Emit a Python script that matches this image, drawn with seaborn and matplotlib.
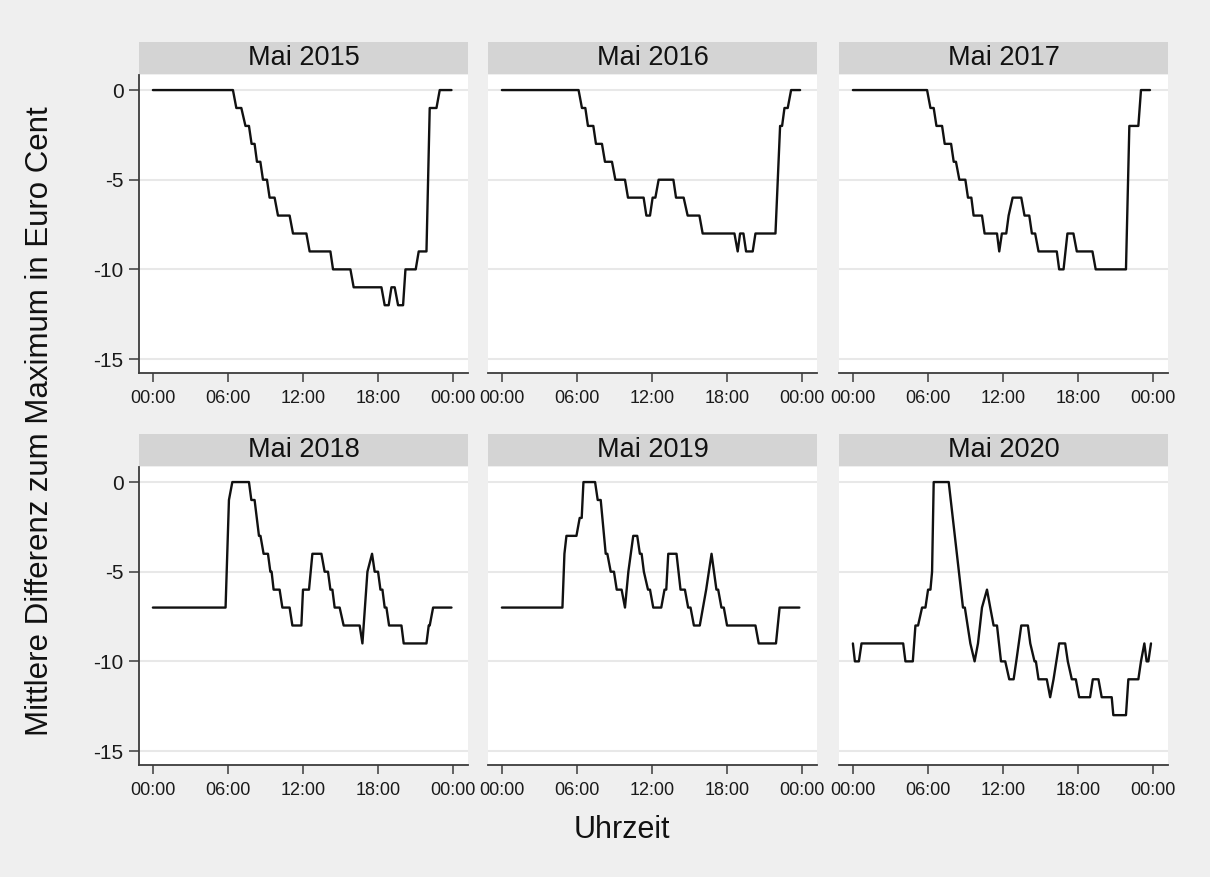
import numpy as np
import pandas as pd
import matplotlib
matplotlib.use("Agg")
import matplotlib.pyplot as plt
from matplotlib.patches import Rectangle
import seaborn as sns

sns.set_theme(style="white")
plt.rcParams['font.family'] = ['Liberation Sans', 'DejaVu Sans']

titles = ["Mai 2015", "Mai 2016", "Mai 2017", "Mai 2018", "Mai 2019", "Mai 2020"]

hours_2015 = [0, 6.4, 6.67, 7.07, 7.4, 7.68, 7.89, 8.13, 8.32, 8.59, 8.8, 9.12, 9.33, 9.73, 10.0, 10.93,
              11.2, 12.27, 12.53, 14.19, 14.4, 15.79, 16.05, 18.27, 18.53, 18.85, 19.07, 19.33, 19.6, 20.0,
              20.19, 21.01, 21.25, 21.87, 22.13, 22.67, 22.93, 23.87]
vals_2015 = [0, 0, -1, -1, -2, -2, -3, -3, -4, -4, -5, -5, -6, -6, -7, -7,
             -8, -8, -9, -9, -10, -10, -11, -11, -12, -12, -11, -11, -12, -12,
             -10, -10, -9, -9, -1, -1, 0, 0]

hours_2016 = [0, 6.13, 6.4, 6.67, 6.88, 7.31, 7.52, 8.0, 8.24, 8.8, 9.07, 9.84, 10.08, 11.33, 11.55, 11.84,
              12.05, 12.27, 12.53, 13.71, 13.92, 14.53, 14.85, 15.79, 16.05, 18.59, 18.85, 19.04, 19.31,
              19.52, 20.05, 20.27, 21.87, 22.24, 22.4, 22.59, 22.85, 23.12, 23.84]
vals_2016 = [0, 0, -1, -1, -2, -2, -3, -3, -4, -4, -5, -5, -6, -6, -7, -7,
             -6, -6, -5, -5, -6, -6, -7, -7, -8, -8, -9, -8, -8,
             -9, -9, -8, -8, -2, -2, -1, -1, 0, 0]

hours_2017 = [0, 5.93, 6.2, 6.46, 6.68, 7.13, 7.34, 7.85, 8.06, 8.24, 8.51, 8.99, 9.2, 9.47, 9.65, 10.32,
              10.53, 11.52, 11.7, 11.91, 12.26, 12.45, 12.77, 13.46, 13.72, 14.1, 14.31, 14.57, 14.84, 16.3,
              16.49, 16.84, 17.15, 17.63, 17.9, 19.15, 19.41, 21.83, 22.1, 22.82, 23.03, 23.75]
vals_2017 = [0, 0, -1, -1, -2, -2, -3, -3, -4, -4, -5, -5, -6, -6, -7, -7,
             -8, -8, -9, -8, -8, -7, -6, -6, -7, -7, -8, -8, -9, -9,
             -10, -10, -8, -8, -9, -9, -10, -10, -2, -2, 0, 0]

hours_2018 = [0, 5.81, 6.08, 6.35, 7.68, 7.87, 8.13, 8.48, 8.6, 8.85, 9.2, 9.39, 9.49, 9.65, 10.13, 10.35,
              10.93, 11.15, 11.87, 12.0, 12.48, 12.75, 13.47, 13.73, 14.0, 14.19, 14.35, 14.53, 14.93, 15.25,
              16.53, 16.75, 17.15, 17.52, 17.73, 18.0, 18.19, 18.35, 18.53, 18.67, 18.88, 19.87, 20.05,
              21.87, 22.05, 22.13, 22.4, 23.87]
vals_2018 = [-7, -7, -1, 0, 0, -1, -1, -3, -3, -4, -4, -5, -5, -6, -6, -7,
             -7, -8, -8, -6, -6, -4, -4, -5, -5, -6, -6, -7, -7, -8,
             -8, -9, -5, -4, -5, -5, -6, -6, -7, -7, -8, -8, -9,
             -9, -8, -8, -7, -7]

hours_2019 = [0, 4.84, 5.0, 5.16, 5.96, 6.22, 6.38, 6.52, 7.45, 7.66, 7.9, 8.3, 8.43, 8.7, 8.96, 9.18,
              9.57, 9.84, 10.11, 10.5, 10.82, 11.03, 11.17, 11.35, 11.68, 11.84, 12.1, 12.74, 13.0, 13.14,
              13.3, 13.96, 14.28, 14.63, 14.89, 15.08, 15.35, 15.82, 16.33, 16.76, 17.15, 17.29, 17.55,
              17.74, 18.0, 20.27, 20.53, 21.91, 22.2, 23.78]
vals_2019 = [-7, -7, -4, -3, -3, -2, -2, 0, 0, -1, -1, -4, -4, -5, -5, -6,
             -6, -7, -5, -3, -3, -4, -4, -5, -6, -6, -7, -7, -6, -6,
             -4, -4, -6, -6, -7, -7, -8, -8, -6, -4, -6, -6, -7,
             -7, -8, -8, -9, -9, -7, -7]

hours_2020 = [0, 0.16, 0.48, 0.69, 4.02, 4.2, 4.79, 5.0, 5.21, 5.53, 5.8, 6.01, 6.2, 6.33, 6.46, 7.66,
              8.8, 8.95, 9.39, 9.73, 10.0, 10.32, 10.72, 10.98, 11.25, 11.52, 11.84, 12.18, 12.5, 12.85,
              13.06, 13.46, 13.99, 14.18, 14.52, 14.63, 14.84, 15.5, 15.77, 16.04, 16.49, 16.97, 17.18,
              17.5, 17.82, 18.09, 18.96, 19.18, 19.63, 19.89, 20.69, 20.82, 21.83, 22.02, 22.82, 23.03,
              23.3, 23.48, 23.62, 23.83]
vals_2020 = [-9, -10, -10, -9, -9, -10, -10, -8, -8, -7, -7, -6, -6, -5, 0, 0,
             -7, -7, -9, -10, -9, -7, -6, -7, -8, -8, -10, -10, -11, -11,
             -10, -8, -8, -9, -10, -10, -11, -11, -12, -11, -9, -9, -10,
             -11, -11, -12, -12, -11, -11, -12, -12, -13, -13, -11, -11, -10,
             -9, -10, -10, -9]

series_hours = [hours_2015, hours_2016, hours_2017, hours_2018, hours_2019, hours_2020]
series_vals = [vals_2015, vals_2016, vals_2017, vals_2018, vals_2019, vals_2020]

y_ticks = [0, -5, -10, -15]
x_ticks = [0, 6, 12, 18, 24]
x_ticklabels = ["00:00", "06:00", "12:00", "18:00", "00:00"]

W, H = 1210, 877
fig = plt.figure(figsize=(W / 100, H / 100), dpi=100)
fig.patch.set_facecolor("#efefef")

col_x = [139, 488, 839]
panel_w = 329
row_top = [75, 467]
panel_h = 298
header_h = 32
grid_col = "#e8e8e8"
spine_col = "#3c3c3c"

for i in range(6):
    r, c = divmod(i, 3)
    left = col_x[c] / W
    bottom = 1 - (row_top[r] + panel_h) / H
    ax = fig.add_axes([left, bottom, panel_w / W, panel_h / H])
    ax.set_facecolor("white")
    df = pd.DataFrame({"Uhrzeit": series_hours[i], "Wert": series_vals[i]})
    sns.lineplot(data=df, x="Uhrzeit", y="Wert", ax=ax, color="#111111",
                 linewidth=1.7, sort=False, estimator=None)
    ax.set_xlim(-1.11, 25.19)
    ax.set_ylim(-15.78, 0.84)
    ax.set_yticks(y_ticks)
    ax.set_xticks(x_ticks)
    ax.set_xticklabels(x_ticklabels, fontsize=13, color="#1a1a1a")
    for yv in y_ticks:
        ax.axhline(yv, color=grid_col, linewidth=1.5, zorder=0)
    ax.set_xlabel("")
    ax.set_ylabel("")
    for s in ["top", "right"]:
        ax.spines[s].set_visible(False)
    ax.spines["bottom"].set_color(spine_col)
    ax.spines["bottom"].set_linewidth(1.3)
    ax.tick_params(axis="x", direction="out", length=6.5, width=1.1, color=spine_col, pad=6, bottom=True)
    if c == 0:
        ax.spines["left"].set_color(spine_col)
        ax.spines["left"].set_linewidth(1.3)
        ax.set_yticklabels([str(v) for v in y_ticks], fontsize=15, color="#1a1a1a")
        ax.tick_params(axis="y", direction="out", length=7, width=1.1, color=spine_col, pad=4, left=True)
    else:
        ax.spines["left"].set_visible(False)
        ax.set_yticklabels([])
        ax.tick_params(axis="y", left=False)
    hh = header_h / panel_h
    ax.add_patch(Rectangle((0, 1.003), 1, hh, transform=ax.transAxes, clip_on=False,
                           facecolor="#d4d4d4", edgecolor="none"))
    ax.text(0.5, 1.003 + hh / 2, titles[i], transform=ax.transAxes, ha="center", va="center",
            fontsize=19.5, color="#111111")

fig.text(40 / W, 1 - 421 / H, "Mittlere Differenz zum Maximum in Euro Cent", rotation=90,
         ha="center", va="center", fontsize=22.5, color="#111111")
fig.text(622 / W, 1 - 830 / H, "Uhrzeit", ha="center", va="center", fontsize=22, color="#111111")

fig.savefig("out.png", dpi=100, facecolor=fig.get_facecolor())
